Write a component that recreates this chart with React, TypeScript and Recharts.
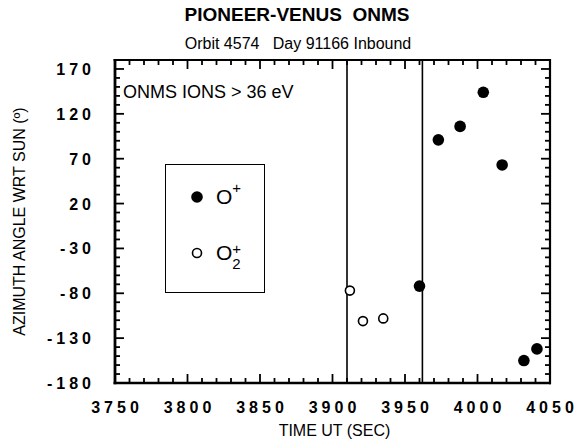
import { Legend, ReferenceLine, Scatter, ScatterChart, XAxis, YAxis } from "recharts";

const majorTimes = [3750, 3800, 3850, 3900, 3950, 4000, 4050];
const majorAngles = [-180, -130, -80, -30, 20, 70, 120, 170];
const boundaryTimes = [3910, 3962];

// O+ ions (filled dots)
const oPlus = [
  { time: 3960, angle: -72 },
  { time: 3973, angle: 91 },
  { time: 3988, angle: 106 },
  { time: 4004, angle: 144 },
  { time: 4017, angle: 63 },
  { time: 4032, angle: -155 },
  { time: 4041, angle: -142 },
];

// O2+ ions (open dots)
const o2Plus = [
  { time: 3912, angle: -77 },
  { time: 3921, angle: -111 },
  { time: 3935, angle: -108 },
];

const timeDomain = [3750, 4050];
const angleDomain = [-180, 180];

const timeTicks: number[] = [];
for (let t = timeDomain[0]; t <= timeDomain[1]; t += 10) timeTicks.push(t);
const angleTicks: number[] = [];
for (let a = angleDomain[0]; a < angleDomain[1]; a += 10) angleTicks.push(a);

const W = 582;
const H = 444;
const margin = { top: 60, right: 32, bottom: 0, left: 0 };
const xAxisHeight = 61;
const yAxisWidth = 115;
const plotLeft = margin.left + yAxisWidth;
const plotTop = margin.top;
const plotW = W - margin.left - margin.right - yAxisWidth;
const plotH = H - margin.top - margin.bottom - xAxisHeight;

const font = "'Liberation Sans', Arial, Helvetica, sans-serif";

function TimeTick(props: any) {
  const { x, y, payload } = props;
  if (!majorTimes.includes(payload.value)) return <g />;
  return (
    <text x={x + 2} y={y + 30} textAnchor="middle" fontFamily={font} fontWeight="bold" fontSize={16} letterSpacing={4} fill="#000">
      {payload.value}
    </text>
  );
}

function AngleTick(props: any) {
  const { x, y, payload } = props;
  if (!majorAngles.includes(payload.value)) return <g />;
  return (
    <text x={x - 20} y={y + 6} textAnchor="end" fontFamily={font} fontWeight="bold" fontSize={16} letterSpacing={4} fill="#000">
      {payload.value}
    </text>
  );
}

// plot frame with inward ticks on all four sides
function Frame() {
  const tx = (t: number) => plotLeft + ((t - timeDomain[0]) / (timeDomain[1] - timeDomain[0])) * plotW;
  const ty = (a: number) => plotTop + plotH - ((a - angleDomain[0]) / (angleDomain[1] - angleDomain[0])) * plotH;
  const bottom = plotTop + plotH;
  const right = plotLeft + plotW;
  return (
    <svg width={W} height={H} style={{ position: "absolute", left: 0, top: 0, pointerEvents: "none", zIndex: 2 }}>
      {timeTicks.map((t) => {
        const len = majorTimes.includes(t) ? 9 : 5;
        const x = tx(t);
        return (
          <g key={"t" + t}>
            <line x1={x} y1={bottom} x2={x} y2={bottom - len} stroke="#000" strokeWidth={1.8} />
            <line x1={x} y1={plotTop} x2={x} y2={plotTop + len} stroke="#000" strokeWidth={1.8} />
          </g>
        );
      })}
      {angleTicks.map((a) => {
        const len = majorAngles.includes(a) ? 9 : 5;
        const y = ty(a);
        return (
          <g key={"a" + a}>
            <line x1={plotLeft} y1={y} x2={plotLeft + len} y2={y} stroke="#000" strokeWidth={1.8} />
            <line x1={right} y1={y} x2={right - len} y2={y} stroke="#000" strokeWidth={1.8} />
          </g>
        );
      })}
      <line x1={plotLeft} y1={plotTop - 1} x2={plotLeft} y2={bottom + 1.3} stroke="#000" strokeWidth={2.8} />
      <line x1={plotLeft - 1.4} y1={bottom} x2={right + 1} y2={bottom} stroke="#000" strokeWidth={2.6} />
      <line x1={plotLeft - 1.4} y1={plotTop} x2={right + 1} y2={plotTop} stroke="#000" strokeWidth={2.2} />
      <line x1={right} y1={plotTop - 1} x2={right} y2={bottom + 1.3} stroke="#000" strokeWidth={2.2} />
    </svg>
  );
}

function IonLegend() {
  const row = { display: "flex", alignItems: "center", height: 56 } as const;
  return (
    <div style={{ boxSizing: "border-box", width: 100, height: 129, border: "1.6px solid #000", padding: "4px 0 0 24px", fontFamily: font, color: "#000", background: "#fff" }}>
      <div style={row}>
        <svg width={14} height={14}><circle cx={7} cy={7} r={5.8} fill="#000" /></svg>
        <span style={{ fontSize: 21, marginLeft: 12 }}>O</span>
        <span style={{ fontSize: 15, alignSelf: "flex-start", marginTop: 10 }}>+</span>
      </div>
      <div style={row}>
        <svg width={14} height={14}><circle cx={7} cy={7} r={4.5} fill="#fff" stroke="#000" strokeWidth={1.6} /></svg>
        <span style={{ fontSize: 21, marginLeft: 12 }}>O</span>
        <span style={{ display: "inline-flex", flexDirection: "column", fontSize: 15, lineHeight: "15px", marginTop: 6 }}>
          <span>+</span>
          <span>2</span>
        </span>
      </div>
    </div>
  );
}

export default function App() {
  return (
    <div style={{ position: "absolute", left: 0, top: 0, width: W, height: H }}>
      <div style={{ position: "absolute", left: 0, top: 0, width: W, textAlign: "center", fontFamily: font, color: "#000" }}>
        <div style={{ fontSize: 19, fontWeight: "bold", marginTop: 4, marginLeft: 12, whiteSpace: "pre" }}>{"PIONEER-VENUS  ONMS"}</div>
        <div style={{ fontSize: 16, marginTop: 9, marginLeft: 14, whiteSpace: "pre" }}>{"Orbit 4574   Day 91166 Inbound"}</div>
      </div>
      <div style={{ position: "absolute", left: 123, top: 82, fontFamily: font, fontSize: 18, color: "#000", zIndex: 1 }}>ONMS IONS &gt; 36 eV</div>
      <ScatterChart width={W} height={H} margin={margin}>
        <XAxis
          xAxisId="b"
          type="number"
          dataKey="time"
          domain={timeDomain}
          ticks={timeTicks}
          interval={0}
          allowDataOverflow
          height={xAxisHeight}
          tickSize={0}
          tickMargin={0}
          tickLine={false}
          axisLine={false}
          tick={TimeTick}
          label={{ value: "TIME UT (SEC)", position: "insideBottom", offset: 8, fill: "#000", fontFamily: font, fontSize: 16, dx: 2 }}
        />
        <YAxis
          yAxisId="l"
          type="number"
          dataKey="angle"
          domain={angleDomain}
          ticks={angleTicks}
          interval={0}
          allowDataOverflow
          width={yAxisWidth}
          tickSize={0}
          tickMargin={0}
          tickLine={false}
          axisLine={false}
          tick={AngleTick}
          label={{ value: "AZIMUTH ANGLE WRT SUN (º)", angle: -90, position: "insideLeft", offset: 19, fill: "#000", fontFamily: font, fontSize: 16, style: { textAnchor: "middle" } }}
        />

        {boundaryTimes.map((t) => (
          <ReferenceLine key={t} xAxisId="b" yAxisId="l" x={t} stroke="#000" strokeWidth={1.6} />
        ))}

        <Scatter name="O+" xAxisId="b" yAxisId="l" data={oPlus} isAnimationActive={false} shape={(p: any) => <circle cx={p.cx} cy={p.cy} r={5.8} fill="#000" />} />
        <Scatter name="O2+" xAxisId="b" yAxisId="l" data={o2Plus} isAnimationActive={false} shape={(p: any) => <circle cx={p.cx} cy={p.cy} r={4.5} fill="#fff" stroke="#000" strokeWidth={1.6} />} />

        <Legend
          layout="vertical"
          align="center"
          verticalAlign="middle"
          wrapperStyle={{ position: "absolute", left: 165, top: 164, width: 100, height: 129 }}
          content={() => <IonLegend />}
        />
      </ScatterChart>
      <Frame />
    </div>
  );
}
